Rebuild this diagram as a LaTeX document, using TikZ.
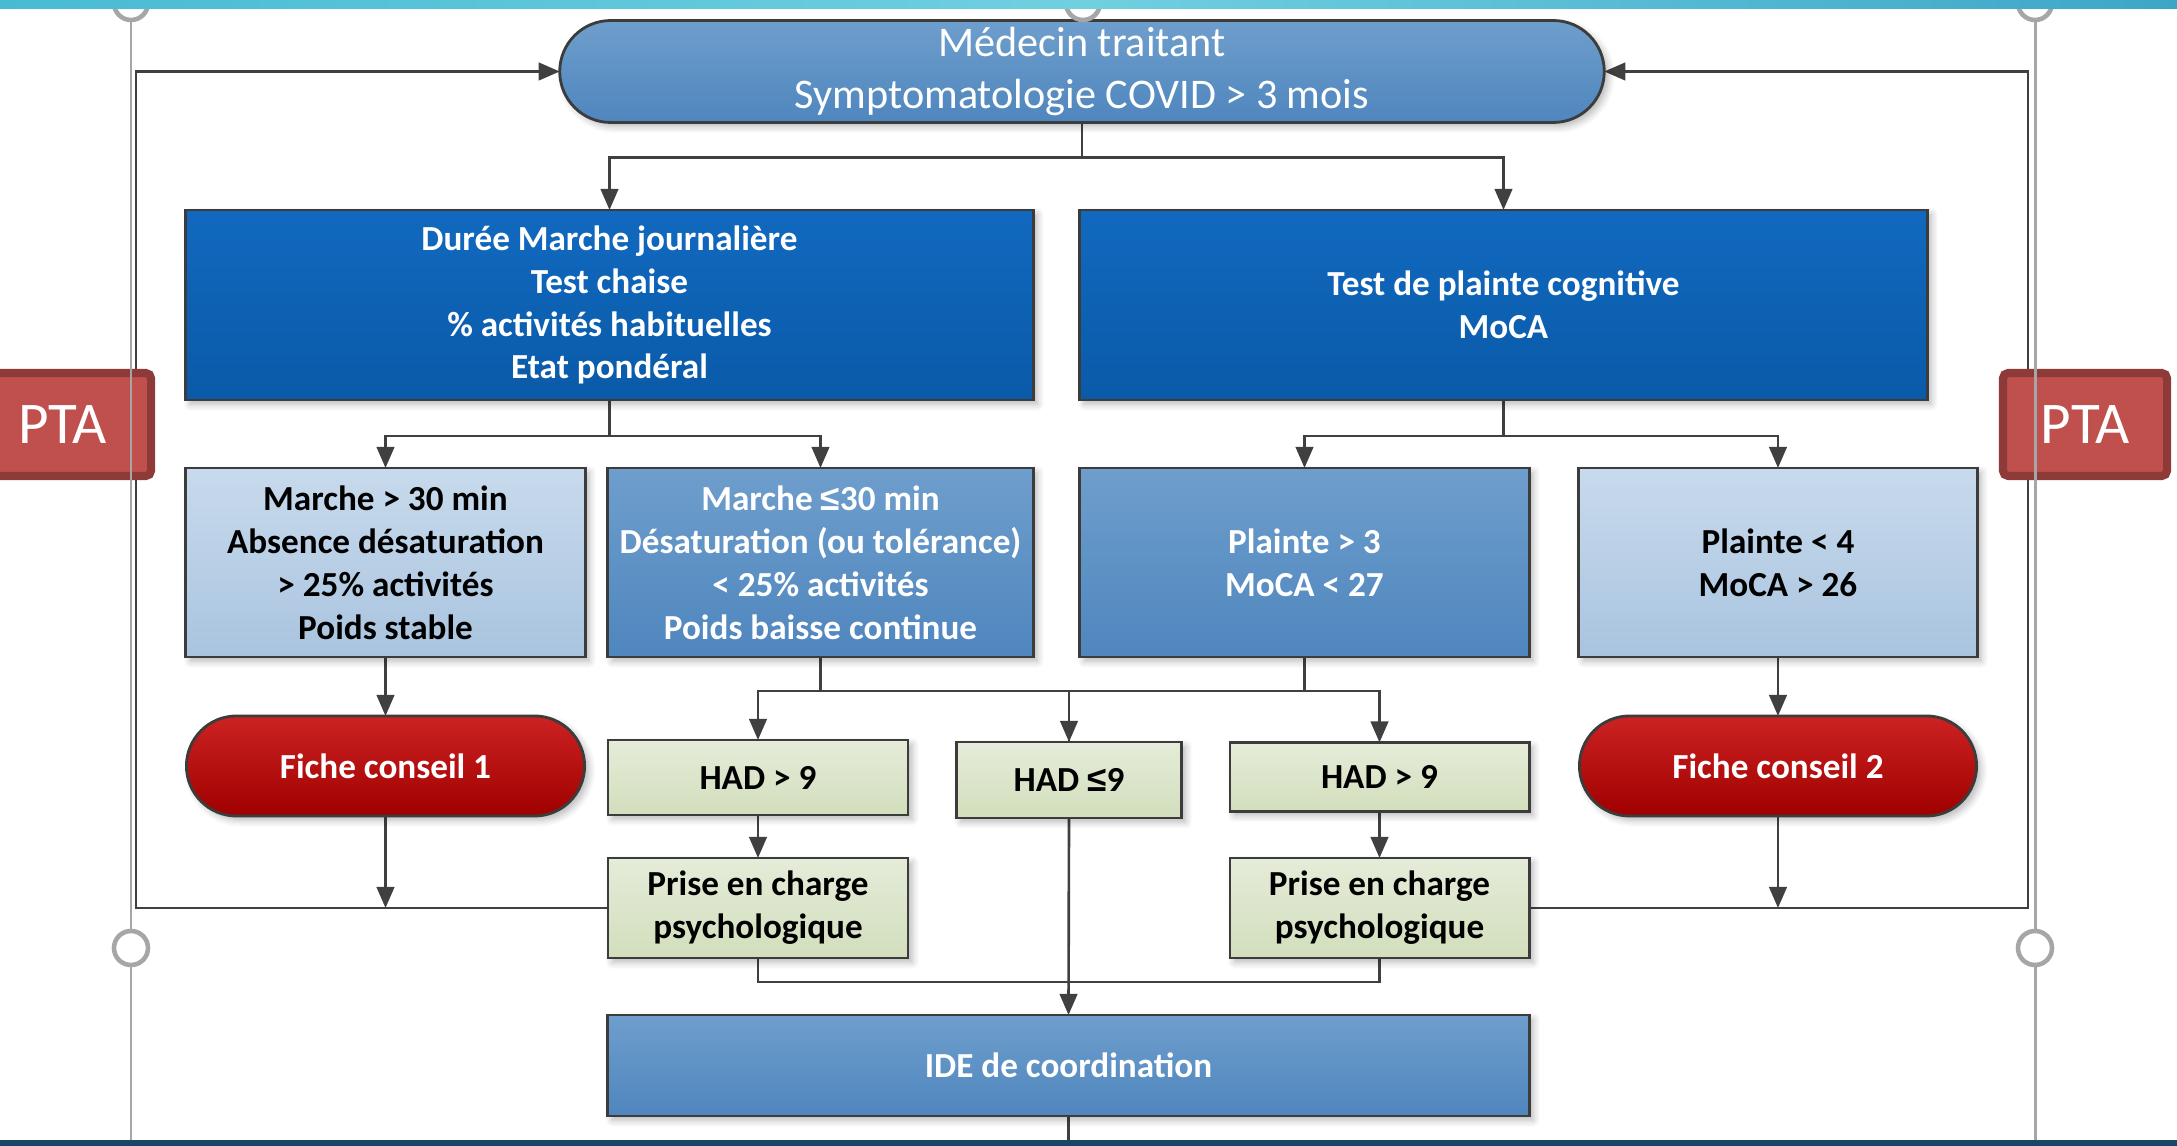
\documentclass[tikz,border=0pt]{standalone}
\usepackage{fontspec}
\setmainfont{Carlito}
\newfontfamily\lsans{Liberation Sans}
\usetikzlibrary{arrows.meta,shapes.misc,shadows.blur}
\definecolor{conncol}{HTML}{404040}
\definecolor{bordercol}{HTML}{3C3C3C}
\definecolor{dkTop}{HTML}{1169BF}
\definecolor{dkBot}{HTML}{0A5AA8}
\definecolor{mdTop}{HTML}{6E9ECC}
\definecolor{mdBot}{HTML}{4F86BE}
\definecolor{ltTop}{HTML}{C8DAEC}
\definecolor{ltBot}{HTML}{A9C4DF}
\definecolor{gnTop}{HTML}{E5ECD9}
\definecolor{gnBot}{HTML}{D2DEBC}
\definecolor{rdTop}{HTML}{CC2222}
\definecolor{rdBot}{HTML}{A00000}
\definecolor{ptaFill}{HTML}{C0504D}
\definecolor{ptaLine}{HTML}{8D3A38}
\definecolor{selGray}{HTML}{A6A6A6}
\definecolor{bandA}{HTML}{48BBD3}
\definecolor{bandB}{HTML}{70D0E0}
\definecolor{bandC}{HTML}{3DA6C8}
\definecolor{navy}{HTML}{1B4767}
\pgfdeclarelayer{bg}
\pgfdeclarelayer{fg}
\pgfsetlayers{bg,main,fg}
\begin{document}
\begin{tikzpicture}[x=0.01cm,y=-0.01cm,
 box/.style={draw=bordercol,line width=0.8pt,inner sep=2pt,outer sep=0pt,align=center,
   font=\fontsize{10}{12.2}\selectfont\bfseries,
   blur shadow={shadow xshift=1.2pt,shadow yshift=-1.2pt,shadow blur steps=6,shadow opacity=28}},
 dkbox/.style={box,top color=dkTop,bottom color=dkBot,text=white},
 mdbox/.style={box,top color=mdTop,bottom color=mdBot,text=white},
 ltbox/.style={box,top color=ltTop,bottom color=ltBot,text=black},
 gnbox/.style={box,top color=gnTop,bottom color=gnBot,text=black},
 rdpill/.style={box,rounded rectangle,top color=rdTop,bottom color=rdBot,text=white},
 conn/.style={draw=conncol,line width=0.75pt},
 arr/.style={conn,-{Triangle[length=6pt,width=5pt]}},
 pta/.style={draw=ptaLine,line width=2.3pt,fill=ptaFill,text=white,rounded corners=1.5pt,
   font=\fontsize{16.8}{20}\selectfont,inner sep=0pt},
 sel/.style={draw=selGray,line width=0.85pt},
 handle/.style={draw=selGray,line width=1.3pt,fill=white,circle,inner sep=0pt,minimum size=0.34cm}
]
\path[use as bounding box] (0,0) rectangle (2177,1146);
\clip (0,0) rectangle (2177,1146);

% nodes
\node[mdbox,rounded rectangle,minimum width=10.58cm,minimum height=1.01cm,
  font=\fontsize{12}{14.6}\selectfont] (top) at (1082,71.5)
  {\raisebox{-1.2pt}{Médecin traitant}\\\raisebox{-1.2pt}{Symptomatologie COVID > 3 mois}};
\node[dkbox,minimum width=8.47cm,minimum height=1.90cm] (A) at (609.5,305)
  {Durée Marche journalière\\Test chaise\\\% activités habituelles\\Etat pondéral};
\node[dkbox,minimum width=8.47cm,minimum height=1.90cm] (B) at (1503.5,305)
  {Test de plainte cognitive\\MoCA};
\node[ltbox,minimum width=3.99cm,minimum height=1.89cm] (C1) at (385.5,562.5)
  {Marche > 30 min\\Absence désaturation\\> 25\% activités\\Poids stable};
\node[mdbox,minimum width=4.25cm,minimum height=1.89cm] (C2) at (820.5,562.5)
  {Marche {\lsans ≤}30 min\\Désaturation (ou tolérance)\\< 25\% activités\\Poids baisse continue};
\node[mdbox,minimum width=4.49cm,minimum height=1.89cm] (C3) at (1304.5,562.5)
  {Plainte > 3\\MoCA < 27};
\node[ltbox,minimum width=3.98cm,minimum height=1.89cm] (C4) at (1778,562.5)
  {Plainte < 4\\MoCA > 26};
\node[rdpill,minimum width=4.12cm,minimum height=1.00cm] (F1) at (385.5,766) {Fiche conseil 1};
\node[rdpill,minimum width=4.11cm,minimum height=1.00cm] (F2) at (1778,766) {Fiche conseil 2};
\node[gnbox,minimum width=3.00cm,minimum height=0.75cm] (H1) at (758,777.5) {HAD > 9};
\node[gnbox,minimum width=2.25cm,minimum height=0.76cm] (H2) at (1069,780) {HAD {\lsans ≤}9};
\node[gnbox,minimum width=2.99cm,minimum height=0.69cm] (H3) at (1379.5,777) {HAD > 9};
\node[gnbox,minimum width=3.00cm,minimum height=1.00cm] (P1) at (758,908) {Prise en charge\\psychologique};
\node[gnbox,minimum width=2.99cm,minimum height=1.00cm] (P2) at (1379.5,908) {Prise en charge\\psychologique};
\node[mdbox,minimum width=9.21cm,minimum height=1.01cm] (IDE) at (1068.5,1065.5) {IDE de coordination};

\node[pta,minimum width=1.77cm,minimum height=1.03cm] (PTAL) at (62.5,424.5) {PTA};
\node[pta,minimum width=1.64cm,minimum height=1.03cm] (PTAR) at (2085,424.5) {PTA};

\coordinate (bot) at (1068.5,1146);
\coordinate (Lx) at (136,0);
\coordinate (Rx) at (2028,0);

% connectors
\begin{pgfonlayer}{bg}
\draw[arr] (top.south) -- ++(0,35) -| (A.north);
\draw[arr] (top.south) -- ++(0,35) -| (B.north);
\draw[arr] (A.south) -- ++(0,36) -| (C1.north);
\draw[arr] (A.south) -- ++(0,36) -| (C2.north);
\draw[arr] (B.south) -- ++(0,36) -| (C3.north);
\draw[arr] (B.south) -- ++(0,36) -| (C4.north);
\draw[arr] (C1.south) -- (F1.north);
\draw[arr] (C4.south) -- (F2.north);
\draw[arr] (C2.south) -- ++(0,34) -| (H1.north);
\draw[arr] (C2.south) -- ++(0,34) -| (H2.north);
\draw[arr] (C3.south) -- ++(0,34) -| (H3.north);
\draw[conn] (C3.south) -- ++(0,34) -| (H2.north);
\draw[arr] (H1.south) -- (P1.north);
\draw[arr] (H3.south) -- (P2.north);
\draw[arr] (H2.south) -- (IDE.north);
\draw[conn] (P1.south) -- ++(0,24) -| (P2.south);
\draw[conn] (IDE.south) -- (bot);
\draw[arr] (P1.west) -- (P1.west -| Lx) |- (top.west);
\draw[arr] (P2.east) -- (P2.east -| Rx) |- (top.east);
\draw[arr] (F1.south) -- (F1.south |- P1.west);
\draw[arr] (F2.south) -- (F2.south |- P2.east);
\end{pgfonlayer}

% selection frame and slide bands
\begin{pgfonlayer}{fg}
\draw[sel] (131,0) -- (131,1146);
\draw[sel] (2035,0) -- (2035,1146);
\node[handle] (hL) at (131,948) {};
\node[handle] (hR) at (2035,948) {};
\node[handle] (hTL) at (131,3) {};
\node[handle] (hTM) at (1083,3) {};
\node[handle] (hTR) at (2035,3) {};
\fill[left color=bandA,right color=bandC,middle color=bandB] (0,0) rectangle (2177,8.5);
\fill[navy] (0,1140) rectangle (2177,1146);
\end{pgfonlayer}
\end{tikzpicture}
\end{document}
